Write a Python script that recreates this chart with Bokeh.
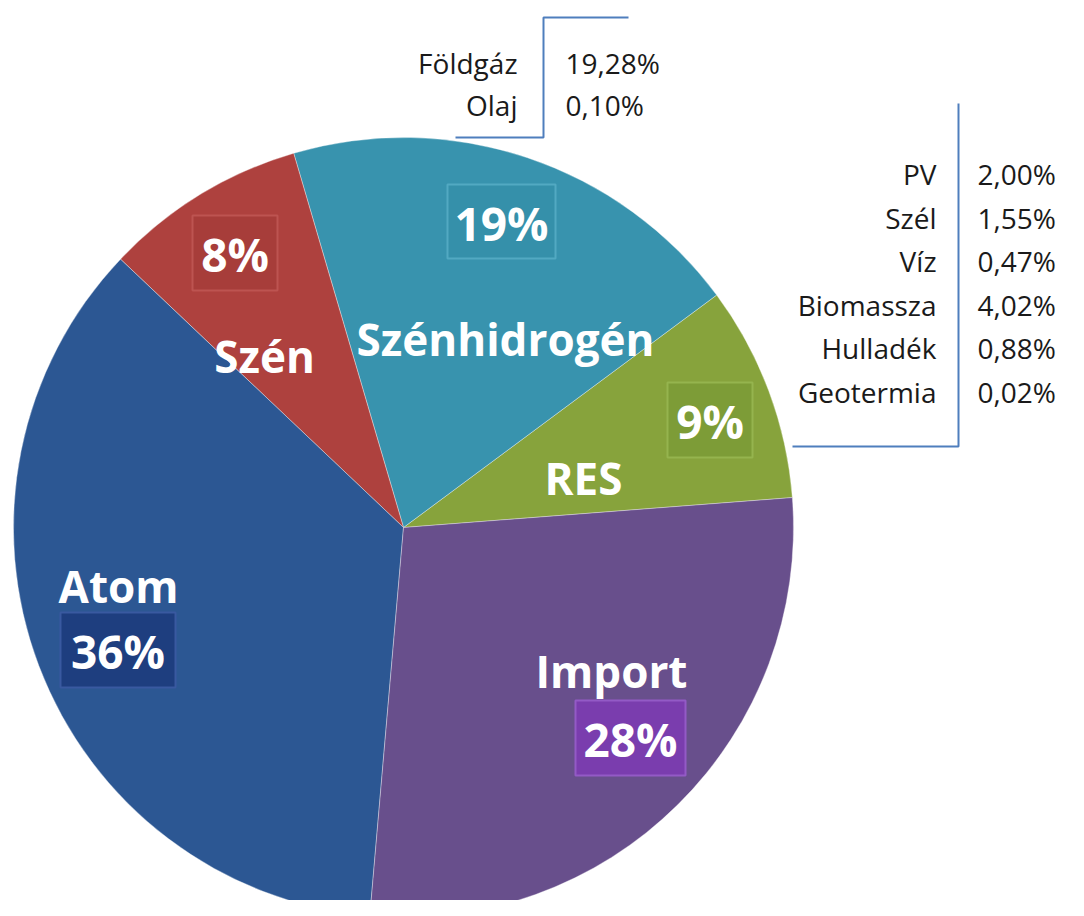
import math
from bokeh.plotting import figure
from bokeh.models import ColumnDataSource, Range1d
from bokeh.core.properties import value
from bokeh.embed import file_html
from bokeh.resources import INLINE

# ---------------- data ----------------
szh_names = ["Földgáz", "Olaj"]
szh_values = [19.28, 0.10]
res_names = ["PV", "Szél", "Víz", "Biomassza", "Hulladék", "Geotermia"]
res_values = [2.00, 1.55, 0.47, 4.02, 0.88, 0.02]
szen_value = 8.38
atom_value = 35.70
import_value = 27.60

categories = ["RES", "Szénhidrogén", "Szén", "Atom", "Import"]
values = [sum(res_values), sum(szh_values), szen_value, atom_value, import_value]

# ---------------- styles / layout ----------------
slice_colors = ["#87A33C", "#3893AE", "#AE413E", "#2C5793", "#684F8C"]
box_fill = ["#7D9C37", "#3590AA", "#A73D3A", "#1E3E7F", "#7A3DAE"]
box_line = ["#95B44E", "#52A9C2", "#BD5451", "#3959A0", "#935AC6"]
W, H = 1068, 900
IMG_H = 916
CX, CY, R = 403, 527, 390          # pie centre/radius in picture pixels
START_DEG = 4.4
FONT = value("Open Sans")
LINE_COLOR = "#4F7EBD"

def Y(y):
    return IMG_H - y

# label layout (picture pixels): name baseline, percentage box
name_pos = {"RES": (583, 477), "Szénhidrogén": (505, 338), "Szén": (264, 355),
            "Atom": (118, 585), "Import": (611, 670)}
box_pos = {"RES": (667, 752, 382, 457), "Szénhidrogén": (447, 555, 184, 258),
           "Szén": (192, 277, 215, 290), "Atom": (60, 175, 612, 687),
           "Import": (575, 685, 700, 775)}

p = figure(width=W, height=H, output_backend="svg", toolbar_location=None,
           x_range=Range1d(0, W), y_range=Range1d(IMG_H - H, IMG_H),
           min_border=0)
p.axis.visible = False
p.grid.visible = False
p.outline_line_color = None
p.background_fill_color = "white"

total = sum(values)
starts, ends = [], []
a = math.radians(START_DEG)
for v in values:
    starts.append(a)
    a += 2 * math.pi * v / total
    ends.append(a)

src = ColumnDataSource(dict(cat=categories, val=values, start=starts, end=ends,
                            color=slice_colors))
p.wedge(x=CX, y=Y(CY), radius=R, start_angle="start", end_angle="end",
        fill_color="color", line_color="white", line_alpha=0.35, line_width=1,
        source=src)

# percentage boxes
bl, br, bt, bb, bx, by, pct = [], [], [], [], [], [], []
for c, v in zip(categories, values):
    l, r, t, b = box_pos[c]
    bl.append(l); br.append(r); bt.append(Y(t)); bb.append(Y(b))
    bx.append((l + r) / 2); by.append(Y((t + b) / 2))
    pct.append(f"{round(v / total * 100)}%")
p.quad(left=bl, right=br, top=bt, bottom=bb, fill_color=box_fill,
       line_color=box_line, line_width=2)
p.text(x=bx, y=[yy - 1 for yy in by], text=pct, text_font=FONT, text_font_style="bold",
       text_font_size="46px", text_color="white", text_align="center",
       text_baseline="middle")

# category names
p.text(x=[name_pos[c][0] for c in categories], y=[Y(name_pos[c][1]) for c in categories],
       text=categories, text_font=FONT, text_font_style="bold", text_font_size="44px",
       text_color="white", text_align="center", text_baseline="alphabetic")

def fmt(v):
    return f"{v:.2f}".replace(".", ",") + "%"

# top callout (Szénhidrogén breakdown)
top_base = [62, 104]
p.text(x=[517] * len(szh_names), y=[Y(b) for b in top_base], text=szh_names,
       text_font=FONT, text_font_size="28px", text_color="#1a1a1a",
       text_align="right", text_baseline="alphabetic")
p.text(x=[565] * len(szh_values), y=[Y(b) for b in top_base],
       text=[fmt(v) for v in szh_values], text_font=FONT, text_font_size="28px",
       text_color="#1a1a1a", text_align="left", text_baseline="alphabetic")
p.line(x=[628, 543, 543, 455], y=[Y(17), Y(17), Y(137), Y(137)],
       line_color=LINE_COLOR, line_width=2)

# right callout (RES breakdown)
right_base = [173, 217, 260, 304, 347, 391]
p.text(x=[936] * len(res_names), y=[Y(b) for b in right_base], text=res_names,
       text_font=FONT, text_font_size="28px", text_color="#1a1a1a",
       text_align="right", text_baseline="alphabetic")
p.text(x=[977] * len(res_values), y=[Y(b) for b in right_base],
       text=[fmt(v) for v in res_values], text_font=FONT, text_font_size="28px",
       text_color="#1a1a1a", text_align="left", text_baseline="alphabetic")
p.line(x=[958, 958, 792], y=[Y(103), Y(446), Y(446)],
       line_color=LINE_COLOR, line_width=2)

open("out.html", "w").write(file_html(p, INLINE))
